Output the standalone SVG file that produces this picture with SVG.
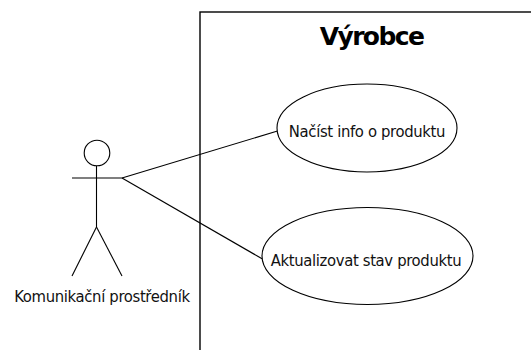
<svg xmlns="http://www.w3.org/2000/svg" width="531" height="350" viewBox="0 0 531 350">
  <style>
    .ln { fill: none; stroke: #000; stroke-width: 1.1; }
    .uc { fill: #fff; stroke: #000; stroke-width: 1.1; }
    .lbl { font-family: "DejaVu Sans Condensed", "DejaVu Sans", sans-serif; font-size: 16.5px; fill: #111; text-anchor: middle; letter-spacing: -0.35px; }
    .ttl { font-family: "DejaVu Sans", sans-serif; font-weight: bold; font-size: 25px; fill: #000; text-anchor: middle; letter-spacing: -1.6px; }
  </style>
  <rect width="531" height="350" fill="#fff"/>

  <!-- system boundary -->
  <g id="system">
    <rect x="200" y="12" width="360" height="400" fill="#fff" stroke="#000" stroke-width="1.4"/>
    <text class="ttl" x="371.5" y="45">Výrobce</text>
  </g>

  <!-- associations -->
  <g id="connectors">
    <line class="ln" x1="122" y1="178" x2="277.5" y2="131"/>
    <line class="ln" x1="122" y1="178" x2="262.5" y2="259"/>
  </g>

  <!-- actor -->
  <g id="actor">
    <circle class="ln" cx="97" cy="153" r="12.8"/>
    <line class="ln" x1="96.5" y1="166" x2="96.5" y2="227"/>
    <line class="ln" x1="72" y1="178" x2="122" y2="178"/>
    <line class="ln" x1="96.5" y1="227" x2="72" y2="276"/>
    <line class="ln" x1="96.5" y1="227" x2="122" y2="276"/>
    <text class="lbl" x="102" y="302">Komunikační prostředník</text>
  </g>

  <!-- use cases -->
  <g id="uc-nacist">
    <ellipse class="uc" cx="367" cy="128" rx="90" ry="44"/>
    <text class="lbl" x="367" y="136.5">Načíst info o produktu</text>
  </g>
  <g id="uc-aktualizovat">
    <ellipse class="uc" cx="367.5" cy="256" rx="105.5" ry="48.5"/>
    <text class="lbl" x="366" y="265.5">Aktualizovat stav produktu</text>
  </g>
</svg>
